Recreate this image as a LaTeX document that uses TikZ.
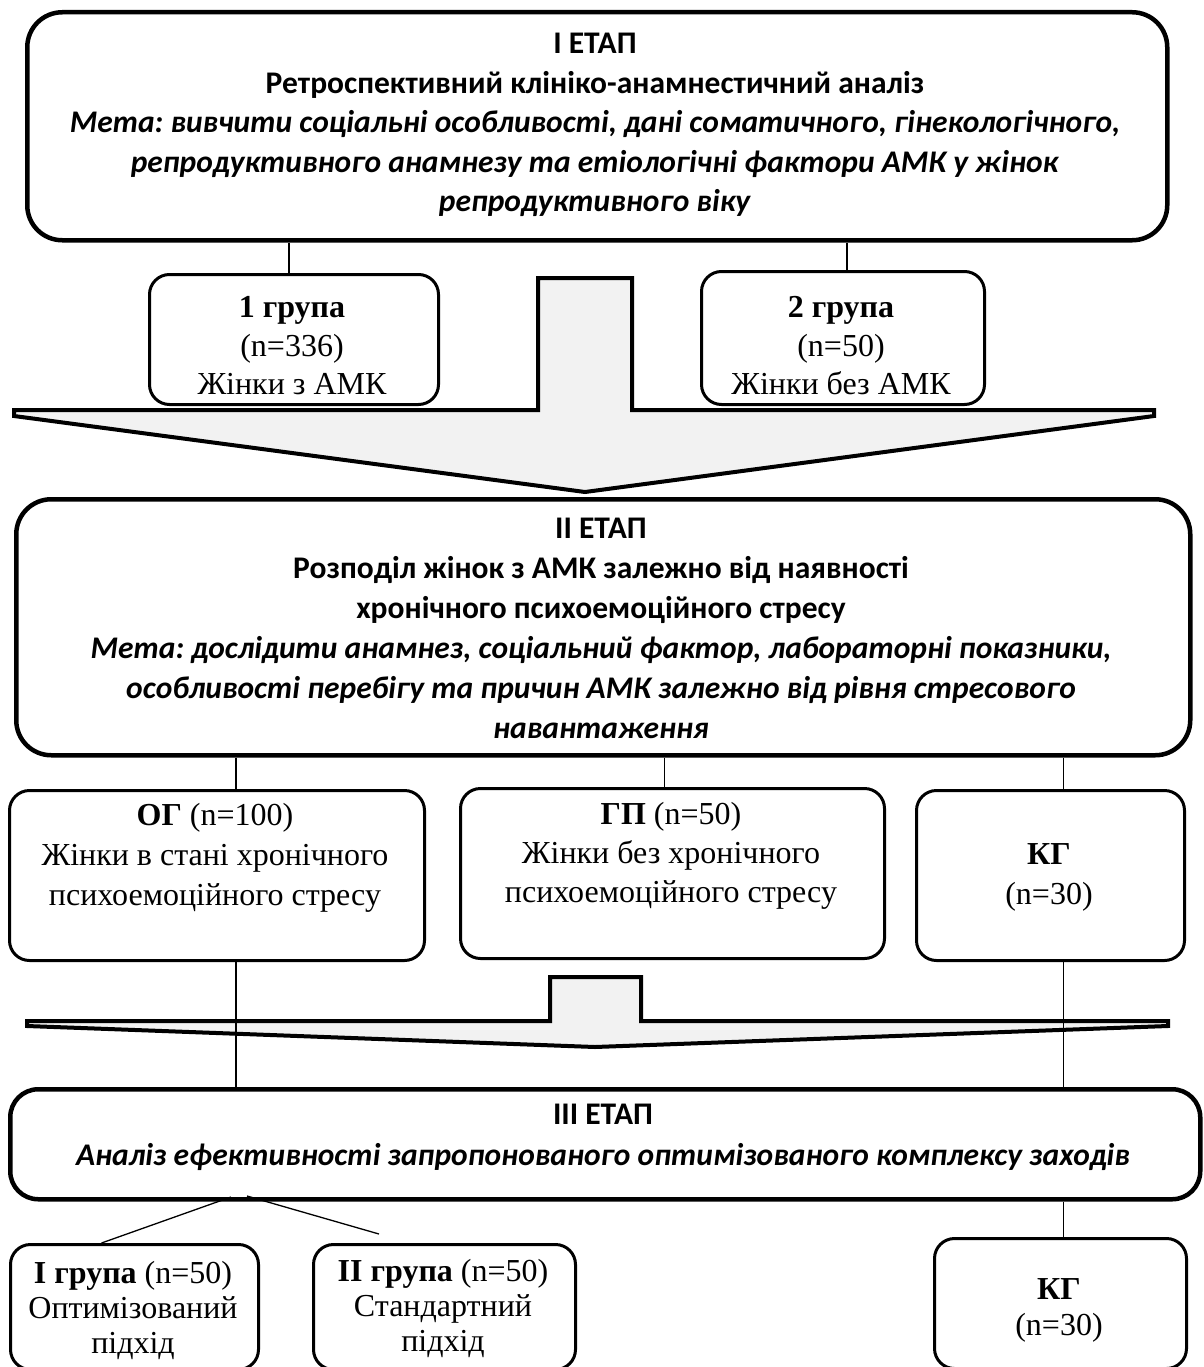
\documentclass[tikz,border=0pt]{standalone}
\usepackage{fontspec}
\setmainfont{Liberation Serif}
\newfontfamily\calfont{Carlito}
\usetikzlibrary{shapes, positioning}
\frenchspacing

\begin{document}
\begin{tikzpicture}[x=1pt, y=-1pt,
        stagebox/.style={draw, line width=4.5pt, rounded corners=35pt},
        grpbox/.style={draw, line width=3pt, rounded corners=20pt},
        stagetext/.style={align=center, font=\calfont\fontsize{31.5}{39.5}\selectfont\bfseries},
        grptext/.style={align=center, font=\fontsize{32}{38.5}\selectfont},
        blockarrow/.style={draw, fill=gray!10, line width=4pt, line join=miter},
        link/.style={line width=1.3pt}]
        \useasboundingbox (0,0) rectangle (1203,1367);

        \draw[blockarrow] (538,278) -- (632,278) -- (632,410) -- (1154,410) -- (1154,416) -- (585,492)
            -- (14,416) -- (14,410) -- (538,410) -- cycle;
        \draw[blockarrow] (550,977) -- (641,977) -- (641,1021) -- (1168,1021) -- (1168,1026) -- (595,1047)
            -- (27,1026) -- (27,1021) -- (550,1021) -- cycle;

        \node[stagebox, minimum width=1140, minimum height=228, anchor=north west] (st1) at (25,10) {};
        \node[stagetext] (st1txt) at (595,125) {I ЕТАП\\
            Ретроспективний клініко-анамнестичний аналіз\\
            \textit{Мета: вивчити соціальні особливості, дані соматичного, гінекологічного,}\\
            \textit{репродуктивного анамнезу та етіологічні фактори АМК у жінок}\\
            \textit{репродуктивного віку}};

        \node[grpbox, minimum width=289, minimum height=130, anchor=north west] (g1) at (148,273) {};
        \node[grptext] (g1txt) at (292,346) {\textbf{1 група}\\(n=336)\\Жінки з АМК};
        \node[grpbox, minimum width=283, minimum height=133, anchor=north west] (g2) at (700,270) {};
        \node[grptext] (g2txt) at (841,346) {\textbf{2 група}\\(n=50)\\Жінки без АМК};

        \node[stagebox, minimum width=1174, minimum height=256, anchor=north west] (st2) at (14,497) {};
        \node[stagetext, font=\calfont\fontsize{31.5}{40}\selectfont\bfseries] (st2txt) at (601,628) {II ЕТАП\\
            Розподіл жінок з АМК залежно від наявності\\
            хронічного психоемоційного стресу\\
            \textit{Мета: дослідити анамнез, соціальний фактор, лабораторні показники,}\\
            \textit{особливості перебігу та причин АМК залежно від рівня стресового}\\
            \textit{навантаження}};

        \node[grpbox, minimum width=415, minimum height=170, anchor=north west] (og) at (8,789) {};
        \node[grptext, font=\fontsize{32}{40}\selectfont] (ogtxt) at (215,858) {\textbf{ОГ} (n=100)\\Жінки в стані хронічного\\психоемоційного стресу};
        \node[grpbox, minimum width=424, minimum height=170, anchor=north west] (gp) at (459,787) {};
        \node[grptext, font=\fontsize{32}{39}\selectfont] (gptxt) at (671,856) {\textbf{ГП} (n=50)\\Жінки без хронічного\\психоемоційного стресу};
        \node[grpbox, minimum width=268, minimum height=170, anchor=north west] (kg) at (915,789) {};
        \node[grptext, font=\fontsize{32}{40}\selectfont] (kgtxt) at (1049,877) {\textbf{КГ}\\(n=30)};

        \node[stagebox, rounded corners=28pt, minimum width=1190, minimum height=110, anchor=north west] (st3) at (8,1087) {};
        \node[stagetext, font=\calfont\fontsize{31.5}{41}\selectfont\bfseries] (st3txt) at (603,1137) {III ЕТАП\\
            \textit{Аналіз ефективності запропонованого оптимізованого комплексу заходів}};

        \node[grpbox, minimum width=248, minimum height=125, anchor=north west] (gi) at (9,1243) {};
        \node[grptext, font=\fontsize{32}{35}\selectfont] (gitxt) at (133,1310) {\textbf{I група} (n=50)\\Оптимізований\\підхід};
        \node[grpbox, minimum width=262, minimum height=125, anchor=north west] (gii) at (312,1243) {};
        \node[grptext, font=\fontsize{32}{35}\selectfont] (giitxt) at (443,1308) {\textbf{II група} (n=50)\\Стандартний\\підхід};
        \node[grpbox, minimum width=252, minimum height=130, anchor=north west] (kgb) at (933,1237) {};
        \node[grptext, font=\fontsize{32}{36}\selectfont] (kgbtxt) at (1059,1310) {\textbf{КГ}\\(n=30)};

        \coordinate (g1top) at ([xshift=-5pt]g1.north);
        \coordinate (g2top) at ([xshift=4pt]g2.north);
        \coordinate (ogtop) at ([xshift=19pt]og.north);
        \coordinate (gptop) at ([xshift=-8pt]gp.north);
        \coordinate (kgtop) at ([xshift=13pt]kg.north);
        \coordinate (ogbot) at ([xshift=19pt]og.south);
        \coordinate (kgbot) at ([xshift=13pt]kg.south);
        \coordinate (fork) at (231,1197);
        \coordinate (fork2) at (247,1196);
        \coordinate (giend) at ([xshift=-33pt]gi.north);
        \coordinate (giiend) at (379,1234);
        \coordinate (kgbtop) at ([xshift=3pt]kgb.north);

        \draw[link] (g1top |- st1.south) -- (g1top);
        \draw[link] (g2top |- st1.south) -- (g2top);
        \draw[link] (ogtop |- st2.south) -- (ogtop);
        \draw[link] (gptop |- st2.south) -- (gptop);
        \draw[link] (kgtop |- st2.south) -- (kgtop);
        \draw[link] (ogbot) -- (ogbot |- st3.north);
        \draw[link] (kgbot) -- (kgbot |- st3.north);
        \draw[link] (fork) -- (giend);
        \draw[link] (fork2) -- (giiend);
        \draw[link] (kgbtop |- st3.south) -- (kgbtop);
    \end{tikzpicture}
\end{document}
